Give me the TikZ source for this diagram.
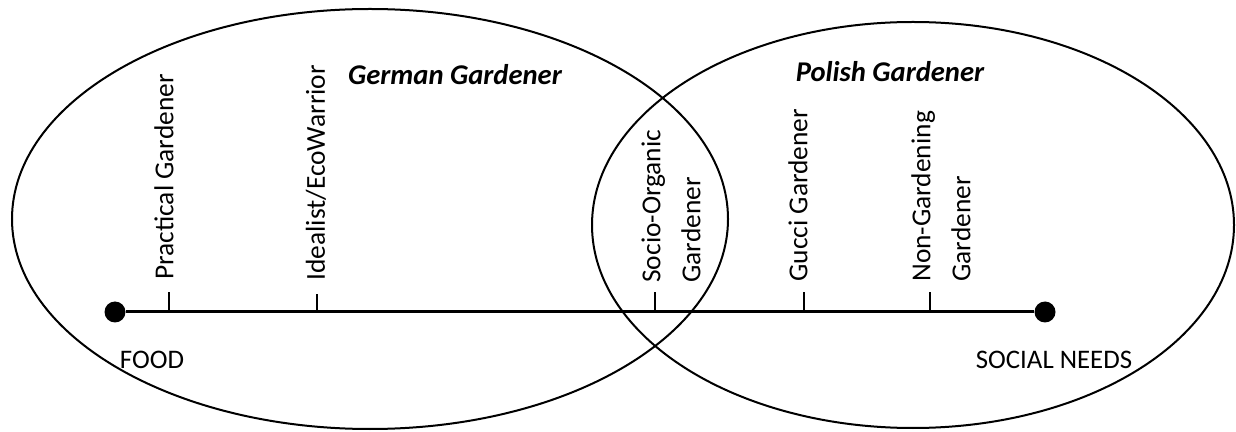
\documentclass[tikz,border=0pt]{standalone}
\usepackage{fontspec}
\setmainfont{Carlito}
\usetikzlibrary{positioning, shapes.geometric}

\tikzset{
	group/.style={draw, ellipse, line width=1pt, inner sep=0pt},
	dot/.style={circle, fill, inner sep=0pt, minimum size=10.5pt},
	axis/.style={line width=1.5pt},
	tick/.style={line width=1pt},
	kind/.style={rotate=90, anchor=west, inner sep=0pt, align=left, font=\fontsize{13.7}{20}\selectfont},
	pole/.style={inner sep=0pt, font=\fontsize{13.4}{16}\selectfont},
	title/.style={inner sep=0pt, font=\fontsize{14.3}{17}\selectfont\bfseries\itshape}
}

\begin{document}
\begin{tikzpicture}[x=0.5pt,y=-0.5pt]
			\useasboundingbox (0,0) rectangle (1236,432);
			% the two groups
			\node [group, minimum width=358pt, minimum height=210pt] (german) at (370,219) {};
			\node [group, minimum width=321pt, minimum height=203pt] (polish) at (913,225) {};
			\node [title] (germanT) at (455,75) {German Gardener};
			\node [title] (polishT) at (890,72) {Polish Gardener};
			% the axis
			\node [dot] (food) at (115,312) {};
			\node [dot] (social) at (1045,312) {};
			\draw [axis] (food) -- (social);
			\node [pole] (foodT) at (152,360) {FOOD};
			\node [pole] (socialT) at (1054,360) {SOCIAL NEEDS};
			% ticks
			\coordinate (t1) at (169,312);
			\coordinate (t2) at (317,312);
			\coordinate (t3) at (655,312);
			\coordinate (t4) at (804,312);
			\coordinate (t5) at (930,312);
			\draw [tick] (t1) -- ++(0,-20);
			\draw [tick] (t2) -- ++(0,-18);
			\draw [tick] (t3) -- ++(0,-20);
			\draw [tick] (t4) -- ++(0,-20);
			\draw [tick] (t5) -- ++(0,-20);
			% kinds of gardener
			\node [kind] (practical) at (164,280) {Practical Gardener};
			\node [kind] (idealist) at (316,281) {Idealist/EcoWarrior};
			\node [kind] (socio) at (671,283) {Socio-Organic\\Gardener};
			\node [kind] (gucci) at (798,282) {Gucci Gardener};
			\node [kind] (nongarden) at (941,282) {Non-Gardening\\Gardener};
\end{tikzpicture}
\end{document}
